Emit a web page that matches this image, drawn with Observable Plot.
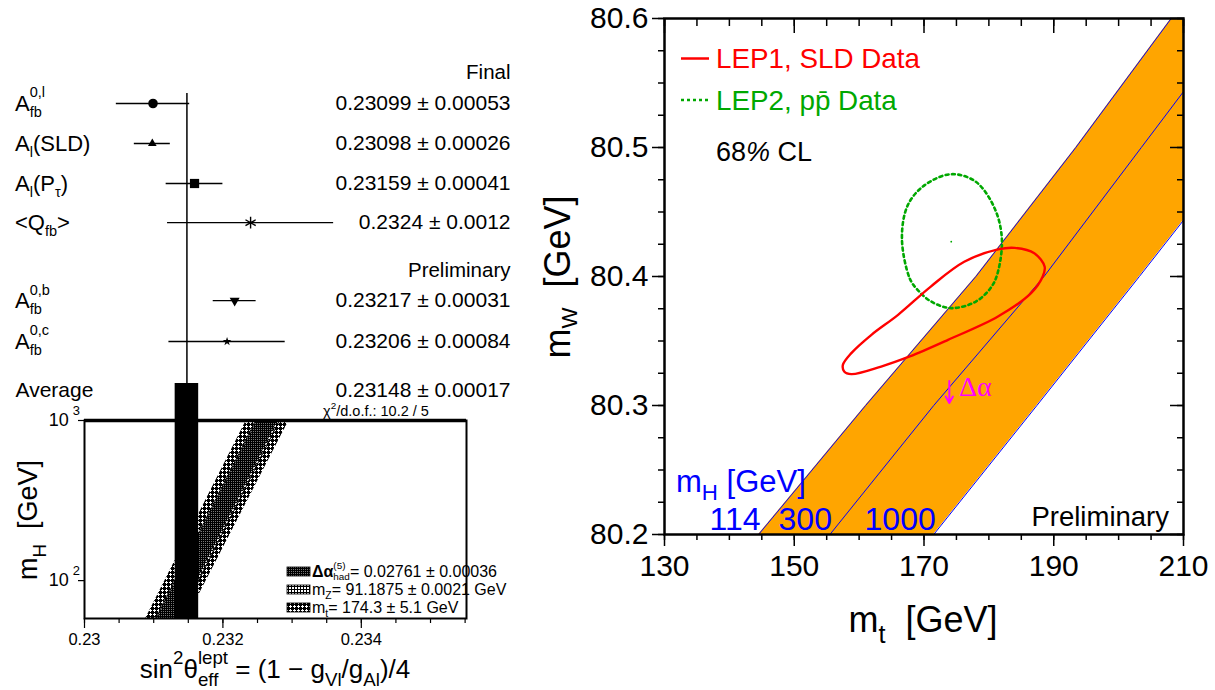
<!DOCTYPE html>
<html>
<head>
<meta charset="utf-8">
<script src="https://cdn.jsdelivr.net/npm/d3@7"></script>
<script src="https://cdn.jsdelivr.net/npm/@observablehq/plot@0.6"></script>
<style>
html,body{margin:0;padding:0;background:#fff;}
#root{position:relative;width:1215px;height:690px;overflow:hidden;background:#fff;}
#root svg{position:absolute;}
text{white-space:pre;}
</style>
</head>
<body>
<div id="root"></div>
<script>
// ================= DATA =================
// Left top: measurements of sin^2(theta_eff^lept)
const measValues = [0.23099, 0.23098, 0.23159, 0.2324, 0.23217, 0.23206];
const measErrors = [0.00053, 0.00026, 0.00041, 0.0012, 0.00031, 0.00084];
const measValueLabels = ["0.23099 ± 0.00053", "0.23098 ± 0.00026", "0.23159 ± 0.00041",
                         "0.2324 ± 0.0012", "0.23217 ± 0.00031", "0.23206 ± 0.00084"];
const measRows = [1, 2, 3, 3.98, 5.93, 6.95];
const measSymbols = ["circle", "triangle", "square", "asterisk", "triangleDown", "star"];
const measNames = [
  ["A", {sub: "fb", sup: "0,l"}],
  ["A", {sub: "l"}, "(SLD)"],
  ["A", {sub: "l"}, "(P", {sub: "τ"}, ")"],
  ["<Q", {sub: "fb"}, ">"],
  ["A", {sub: "fb", sup: "0,b"}],
  ["A", {sub: "fb", sup: "0,c"}]
];
const groupNames = ["Final", "Preliminary"];
const groupRows = [0.22, 5.17];
const averageName = "Average";
const averageValue = 0.23148;
const averageError = 0.00017;
const averageLabel = "0.23148 ± 0.00017";
const averageRow = 8.18;
const chi2Label = "10.2 / 5";

// Left bottom: m_H versus sin^2 bands (edges at the bottom and top of the frame)
const bandMh   = [58, 1000];
const bandMtLo = [0.230885, 0.232339];
const bandMtHi = [0.231477, 0.232956];
const bandMzLo = [0.231030, 0.232474];
const bandMzHi = [0.231374, 0.232817];
const bandDaLo = [0.231050, 0.232494];
const bandDaHi = [0.231353, 0.232797];
const sinDomain = [0.23, 0.23552];
const sinTicks = [0.23, 0.232, 0.234];
const mhDomain = [58, 1000];
const mhTicks = [100, 1000];
const legendDa = "= 0.02761 ± 0.00036";
const legendMz = "= 91.1875 ± 0.0021 GeV";
const legendMt = "= 174.3 ± 5.1 GeV";

// Right: m_W versus m_t
const mwLevels   = [80.2, 80.3, 80.4, 80.5, 80.6];
const mtAtMh114  = [144.5, 161.0, 178.0, 193.4, 208.1];
const mtAtMh300  = [155.5, 171.5, 188.5, 203.5, 218.5];
const mtAtMh1000 = [171.5, 187.4, 203.2, 218.8, 234.4];
const mhBandNames = ["114", "300", "1000"];
const lep1Mt = [176.2, 181.4, 184.0, 187.0, 188.6, 188.3, 186.5, 181.4, 173.7, 167.8, 163.4, 158.8, 157.7, 157.5, 158.8, 161.9, 166.0, 171.0];
const lep1Mw = [80.4114, 80.4210, 80.4222, 80.4180, 80.4075, 80.4000, 80.3871, 80.3690, 80.3509, 80.3380, 80.3302, 80.3243, 80.3264, 80.3315, 80.3406, 80.3548, 80.3703, 80.3920];
const lep2Mt = [174.2, 178.0, 180.9, 182.0, 181.4, 180.4, 178.0, 174.2, 171.1, 169.0, 167.8, 166.6, 167.5, 170.1];
const lep2Mw = [80.4793, 80.4734, 80.4527, 80.4295, 80.4036, 80.3920, 80.3806, 80.3755, 80.3806, 80.3897, 80.3985, 80.4295, 80.4553, 80.4708];
const lep2Centre = {mt: 174.2, mw: 80.427};
const deltaAlpha = {mt: 173.9, mwFrom: 80.319, mwTo: 80.302, labelMt: 175.4, labelMw: 80.307};
const mtDomain = [130, 210];
const mwDomain = [80.2, 80.6];
const mtTicks = [130, 150, 170, 190, 210];
const mwTicks = [80.2, 80.3, 80.4, 80.5, 80.6];

// ================= STYLE =================
const FONT = '"Liberation Sans", Arial, Helvetica, sans-serif';
const SERIF = '"Liberation Serif", "DejaVu Serif", serif';
const ORANGE = "#ffa500", BLUE = "#0000ff", RED = "#ff0000", GREEN = "#00a800", MAGENTA = "#ff00ff";
const STYLE = {background: "transparent", fontFamily: FONT, overflow: "visible", color: "black"};

const triangleDown = {
  draw(context, size) {
    const y = Math.sqrt(size / (Math.sqrt(3) * 3));
    context.moveTo(0, 2 * y);
    context.lineTo(-Math.sqrt(3) * y, -y);
    context.lineTo(Math.sqrt(3) * y, -y);
    context.closePath();
  }
};
const markerStyle = {
  circle:       {symbol: "circle", r: 4.8, fill: "black"},
  triangle:     {symbol: "triangle", r: 3.2, fill: "black"},
  square:       {symbol: "square", r: 5.2, fill: "black"},
  asterisk:     {symbol: "asterisk", r: 5.6, fill: "none", stroke: "black", strokeWidth: 1.4},
  triangleDown: {symbol: triangleDown, r: 3.7, fill: "black"},
  star:         {symbol: "star", r: 2.7, fill: "black"}
};

const root = document.getElementById("root");
function place(svg, left, top) {
  svg.style.left = left + "px";
  svg.style.top = top + "px";
  root.appendChild(svg);
  return d3.select(svg);
}

// rich text with sub/superscripts
function rich(sel, x, y, parts, o = {}) {
  const size = o.size || 20;
  const t = sel.append("text")
    .attr("x", x).attr("y", y)
    .attr("font-size", size)
    .attr("font-family", o.family || FONT)
    .attr("fill", o.fill || "black")
    .attr("text-anchor", o.anchor || "start")
    .style("white-space", "pre");
  if (o.rotate) t.attr("transform", `rotate(${o.rotate},${x},${y})`);
  const subS = o.subScale ?? 0.68, supS = o.supScale ?? 0.68;
  const subOff = (o.subOff ?? 0.3) * size, supOff = (o.supOff ?? -0.5) * size;
  let cur = 0, pending = 0;
  const add = (str, off, fs, extra = 0, style) => {
    const ts = t.append("tspan").attr("font-size", fs).attr("dy", off - cur).text(str);
    const dx = pending + extra;
    if (dx) ts.attr("dx", dx);
    pending = 0;
    cur = off;
    if (style) for (const k in style) ts.style(k, style[k]);
    return ts;
  };
  for (const p of parts) {
    if (typeof p === "string") add(p, 0, size);
    else if (p.sub != null && p.sup != null) {
      const a = add(p.sub, subOff, size * subS, p.dx || 0);
      const wa = a.node().getComputedTextLength();
      const b = add(p.sup, supOff, size * supS, -wa);
      const wb = b.node().getComputedTextLength();
      if (wb < wa) pending = wa - wb;
    } else if (p.sub != null) add(p.sub, subOff, size * subS, p.dx || 0);
    else if (p.sup != null) add(p.sup, supOff, size * supS, p.dx || 0);
    else if (p.t != null) add(p.t, 0, size, p.dx || 0, p.style);
  }
  return t;
}

// pixel-aligned hatch patterns
function pixelPattern(defs, id, n, isLight, dark, light) {
  const p = defs.append("pattern").attr("id", id).attr("patternUnits", "userSpaceOnUse").attr("width", n).attr("height", n);
  p.append("rect").attr("width", n).attr("height", n).attr("fill", dark).attr("shape-rendering", "crispEdges");
  for (let y = 0; y < n; y++) for (let x = 0; x < n; x++)
    if (isLight(x, y)) p.append("rect").attr("x", x).attr("y", y).attr("width", 1).attr("height", 1)
      .attr("fill", light).attr("shape-rendering", "crispEdges");
}

// ================= LEFT TOP =================
const meas = measValues.map((v, i) => ({v, e: measErrors[i], row: measRows[i], txt: measValueLabels[i], sym: measSymbols[i]}));
const groups = groupNames.map((name, i) => ({name, row: groupRows[i]}));
const topY = [-1.575, 8.925];

const topPlot = Plot.plot({
  width: 540, height: 420,
  marginLeft: 15, marginRight: 30, marginTop: 0, marginBottom: 0,
  x: {domain: sinDomain, range: [84, 466], axis: null},
  y: {domain: topY, range: [0, 420], axis: null},
  style: STYLE,
  marks: [
    Plot.ruleX([averageValue], {y1: 0.75, y2: 8, stroke: "black", strokeWidth: 1.5}),
    Plot.rect([averageValue], {x1: d => d - averageError, x2: d => d + averageError, y1: 8, y2: topY[1], fill: "black"}),
    Plot.ruleY(meas, {y: "row", x1: d => d.v - d.e, x2: d => d.v + d.e, stroke: "black", strokeWidth: 1.3}),
    ...meas.map(d => Plot.dot([d], {x: "v", y: "row", ...markerStyle[d.sym]})),
    Plot.text(meas, {y: "row", text: "txt", frameAnchor: "right", textAnchor: "end", fontSize: 21}),
    Plot.text(groups, {y: "row", text: "name", frameAnchor: "right", textAnchor: "end", fontSize: 20.5}),
    Plot.text([averageLabel], {y: averageRow, text: d => d, frameAnchor: "right", textAnchor: "end", fontSize: 21}),
    Plot.text([averageName], {y: averageRow, text: d => d, frameAnchor: "left", textAnchor: "start", fontSize: 21})
  ]
});
const topSel = place(topPlot, 0, 0);
const topScaleY = topPlot.scale("y");
meas.forEach((d, i) => {
  rich(topSel, 15, topScaleY.apply(d.row) + 7.5, measNames[i], {size: 22, subScale: 0.66, supScale: 0.66, subOff: 0.3, supOff: -0.6});
});

// ================= LEFT BOTTOM =================
const bandRows = bandMh.map((mh, i) => ({
  mh, mtLo: bandMtLo[i], mtHi: bandMtHi[i], mzLo: bandMzLo[i], mzHi: bandMzHi[i], daLo: bandDaLo[i], daHi: bandDaHi[i]
}));
const minorSin = d3.range(0, 12).map(i => 0.23 + i * 0.0005);

const botPlot = Plot.plot({
  width: 540, height: 290,
  marginLeft: 84, marginRight: 74, marginTop: 20, marginBottom: 72,
  x: {domain: sinDomain, axis: null},
  y: {type: "log", domain: mhDomain, axis: null},
  style: STYLE,
  marks: [
    Plot.areaX(bandRows, {y: "mh", x1: "mtLo", x2: "mtHi", fill: "url(#patMt)"}),
    Plot.areaX(bandRows, {y: "mh", x1: "mzLo", x2: "mzHi", fill: "url(#patMz)"}),
    Plot.areaX(bandRows, {y: "mh", x1: "daLo", x2: "daHi", fill: "url(#patDa)"}),
    Plot.line(bandRows, {y: "mh", x: "mzLo", stroke: "black", strokeWidth: 1}),
    Plot.line(bandRows, {y: "mh", x: "mzHi", stroke: "black", strokeWidth: 1}),
    Plot.rect([averageValue], {x1: d => d - averageError, x2: d => d + averageError, fill: "black"}),
    Plot.axisX(minorSin, {anchor: "bottom", tickSize: 5, tickFormat: () => "", label: null, strokeWidth: 1.2}),
    Plot.axisX(sinTicks, {anchor: "bottom", tickSize: 10, tickPadding: 5, fontSize: 16.5, tickFormat: d => String(d), label: null, strokeWidth: 1.2}),
    Plot.axisY(mhTicks, {anchor: "left", tickSize: 6, tickFormat: () => "", label: null, strokeWidth: 1.2}),
    Plot.frame({stroke: "black", strokeWidth: 2}),
    Plot.ruleY([mhDomain[1]], {stroke: "black", strokeWidth: 3.5})
  ]
});
const botSel = place(botPlot, 0, 400);
{
  const defs = botSel.insert("defs", ":first-child");
  // Δα band: very dark, fine texture
  pixelPattern(defs, "patDa", 2, (x, y) => x === 1 && y === 1, "#000", "#777");
  // mZ band: square grid
  pixelPattern(defs, "patMz", 3, (x, y) => x !== 0 && y !== 0, "#000", "#fff");
  // mt band: black mesh with small white diamonds
  pixelPattern(defs, "patMt", 4, (x, y) => (x === 2 && y >= 1 && y <= 3) || (y === 2 && (x === 1 || x === 3)), "#000", "#fff");
}
const botScaleY = botPlot.scale("y");
rich(botSel, 80, botScaleY.apply(1000) + 6, ["10", {sup: "3", dx: 4}], {size: 18, anchor: "end", supOff: -0.6, supScale: 0.72});
rich(botSel, 80, botScaleY.apply(100) + 6, ["10", {sup: "2", dx: 4}], {size: 18, anchor: "end", supOff: -0.6, supScale: 0.72});
rich(botSel, 37, 120, ["m", {sub: "H"}, "  [GeV]"], {size: 27, anchor: "middle", rotate: -90, subOff: 0.32, subScale: 0.7});
rich(botSel, 275, 278, ["sin", {sup: "2"}, "θ", {sub: "eff", sup: "lept"}, " = (1 − g", {sub: "Vl"}, "/g", {sub: "Al"}, ")/4"],
     {size: 26, anchor: "middle", subOff: 0.3, supOff: -0.55, subScale: 0.72, supScale: 0.72});
rich(botSel, 376, 16, ["χ", {sup: "2"}, "/d.o.f.: " + chi2Label], {size: 14.5, anchor: "middle", supOff: -0.45});
// legend
{
  const sw = [["url(#patDa)", 167], ["url(#patMz)", 185], ["url(#patMt)", 203]];
  sw.forEach(([f, y]) => botSel.append("rect").attr("x", 287).attr("y", y).attr("width", 23).attr("height", 9)
    .attr("fill", f).attr("stroke", "black").attr("stroke-width", 0.8));
  rich(botSel, 312, 177, [{t: "Δα", style: {"font-weight": "bold"}}, {sub: "had", sup: "(5)"}, legendDa], {size: 16, subOff: 0.2, supOff: -0.5, subScale: 0.62, supScale: 0.62});
  rich(botSel, 312, 195, ["m", {sub: "Z"}, legendMz], {size: 16, subOff: 0.22, subScale: 0.65});
  rich(botSel, 312, 213, ["m", {sub: "t"}, legendMt], {size: 16, subOff: 0.22, subScale: 0.65});
}

// ================= RIGHT =================
const band = mwLevels.map((mw, i) => ({mw, m114: mtAtMh114[i], m300: mtAtMh300[i], m1000: mtAtMh1000[i]}));
const lep1 = lep1Mt.map((mt, i) => ({mt, mw: lep1Mw[i]}));
const lep2 = lep2Mt.map((mt, i) => ({mt, mw: lep2Mw[i]}));
const bandLabels = mhBandNames.map((name, i) => ({name, mt: [mtAtMh114, mtAtMh300, mtAtMh1000][i][0], mw: mwLevels[0]}));
const mtMinor = d3.range(0, 17).map(i => 130 + i * 5);
const mwMinor = d3.range(0, 17).map(i => 80.2 + i * 0.025);

const rightPlot = Plot.plot({
  width: 695, height: 690,
  marginLeft: 144, marginRight: 32, marginTop: 18, marginBottom: 156,
  x: {domain: mtDomain, axis: null},
  y: {domain: mwDomain, axis: null},
  style: STYLE,
  marks: [
    Plot.areaX(band, {y: "mw", x1: "m114", x2: "m1000", fill: ORANGE, clip: true}),
    Plot.line(band, {x: "m114", y: "mw", stroke: BLUE, strokeWidth: 1, clip: true}),
    Plot.line(band, {x: "m300", y: "mw", stroke: BLUE, strokeWidth: 1, clip: true}),
    Plot.line(band, {x: "m1000", y: "mw", stroke: BLUE, strokeWidth: 1, clip: true}),
    Plot.line(lep2, {x: "mt", y: "mw", curve: "catmull-rom-closed", stroke: GREEN, strokeWidth: 2.6, strokeDasharray: "3,3.4"}),
    Plot.dot([lep2Centre], {x: "mt", y: "mw", r: 0.9, fill: GREEN}),
    Plot.line(lep1, {x: "mt", y: "mw", curve: "catmull-rom-closed", stroke: RED, strokeWidth: 2.4}),
    Plot.arrow([deltaAlpha], {x1: "mt", x2: "mt", y1: "mwFrom", y2: "mwTo", stroke: MAGENTA, strokeWidth: 2, headLength: 7}),
    Plot.text([deltaAlpha], {x: "labelMt", y: "labelMw", text: () => "Δα", fill: MAGENTA, fontSize: 28, fontFamily: SERIF, textAnchor: "start", lineAnchor: "bottom"}),
    Plot.text(bandLabels, {x: "mt", y: "mw", text: "name", fill: BLUE, fontSize: 32, textAnchor: "end", lineAnchor: "bottom", dx: 2, dy: -5}),
    Plot.axisX(mtMinor, {anchor: "bottom", tickSize: 6, tickFormat: () => "", label: null, strokeWidth: 1.5}),
    Plot.axisX(mtTicks, {anchor: "bottom", tickSize: 12, tickPadding: 8, fontSize: 30, tickFormat: d => String(d), label: null, strokeWidth: 1.5}),
    Plot.axisX(mtMinor, {anchor: "top", tickSize: -7, tickFormat: () => "", label: null, strokeWidth: 1.5}),
    Plot.axisX(mtTicks, {anchor: "top", tickSize: -14, tickFormat: () => "", label: null, strokeWidth: 1.5}),
    Plot.axisY(mwMinor, {anchor: "left", tickSize: 6, tickFormat: () => "", label: null, strokeWidth: 1.5}),
    Plot.axisY(mwTicks, {anchor: "left", tickSize: 12, tickPadding: 4, fontSize: 30, tickFormat: d => d.toFixed(1), label: null, strokeWidth: 1.5}),
    Plot.axisY(mwMinor, {anchor: "right", tickSize: -7, tickFormat: () => "", label: null, strokeWidth: 1.5}),
    Plot.axisY(mwTicks, {anchor: "right", tickSize: -14, tickFormat: () => "", label: null, strokeWidth: 1.5}),
    Plot.frame({stroke: "black", strokeWidth: 2.5})
  ]
});
const rSel = place(rightPlot, 520, 0);
// legend & annotations
rSel.append("line").attr("x1", 161).attr("x2", 189).attr("y1", 58.5).attr("y2", 58.5).attr("stroke", RED).attr("stroke-width", 2.5);
rich(rSel, 196, 68, ["LEP1, SLD Data"], {size: 27.8, fill: RED});
rSel.append("line").attr("x1", 161).attr("x2", 189).attr("y1", 100).attr("y2", 100).attr("stroke", GREEN).attr("stroke-width", 2.5).attr("stroke-dasharray", "3,3");
rich(rSel, 196, 110, ["LEP2, pp\u0304 Data"], {size: 27.8, fill: GREEN});
rich(rSel, 196, 161, ["68", {t: "%", style: {"font-style": "italic"}}, " CL"], {size: 27});
rich(rSel, 156, 492, ["m", {sub: "H"}, " [GeV]"], {size: 31, fill: BLUE, subOff: 0.25, subScale: 0.72});
rich(rSel, 649, 526, ["Preliminary"], {size: 27.5, anchor: "end"});
rich(rSel, 403, 632, ["m", {sub: "t"}, "  [GeV]"], {size: 36, anchor: "middle", subOff: 0.3, subScale: 0.7});
rich(rSel, 50, 277, ["m", {sub: "W"}, "  [GeV]"], {size: 36, anchor: "middle", rotate: -90, subOff: 0.2, subScale: 0.62});
</script>
</body>
</html>
